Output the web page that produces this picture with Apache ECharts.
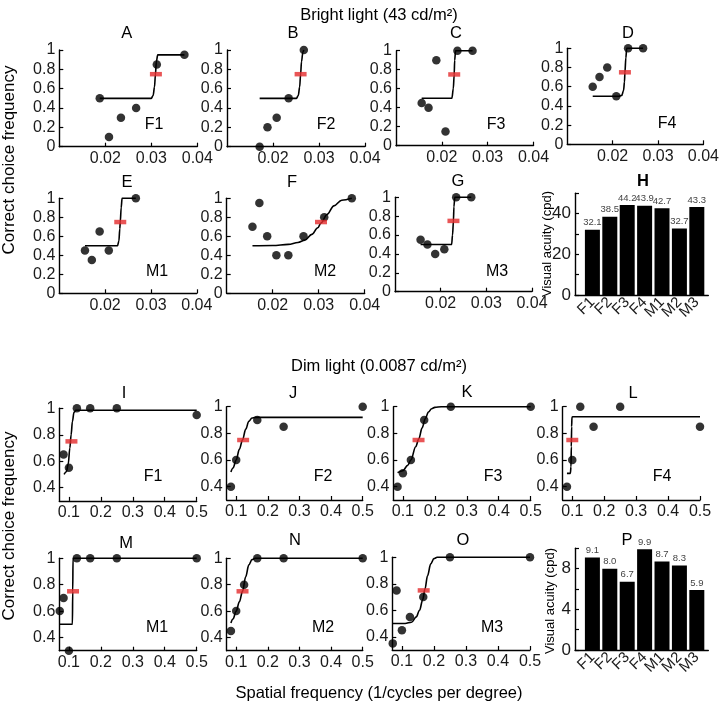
<!DOCTYPE html>
<html><head><meta charset="utf-8">
<script src="https://cdn.jsdelivr.net/npm/echarts@6/dist/echarts.min.js"></script>
<style>html,body{margin:0;padding:0;background:#fff}#c{width:722px;height:704px}</style>
</head><body><div id="c"></div>
<script>
// ---------------- DATA ----------------
const animals = ['F1','F2','F3','F4','M1','M2','M3'];
const brightAcuity = [32.1, 38.5, 44.2, 43.9, 42.7, 32.7, 43.3];
const dimAcuity = [9.1, 8.0, 6.7, 9.9, 8.7, 8.3, 5.9];

const brightXTicks = [0.02, 0.03, 0.04];
const dimXTicks = [0.1, 0.2, 0.3, 0.4, 0.5];
const brightYTicks = [0, 0.2, 0.4, 0.6, 0.8, 1];
const dimYTicks = [0.4, 0.6, 0.8, 1];
const acuityTicksH = [0, 10, 20, 30, 40, 50];
const acuityLabelsH = [0, 20, 40];
const acuityTicksP = [0, 2, 4, 6, 8, 10];
const acuityLabelsP = [0, 4, 8];

// Bright light (43 cd/m2): measured points, fitted curve, 75% threshold
const ptsA = [[0.0188,0.5],[0.0208,0.1],[0.0234,0.3],[0.0267,0.4],[0.0312,0.85],[0.0372,0.95]];
const fitA = [[0.0188,0.5],[0.0300,0.5],[0.0304,0.53],[0.0307,0.62],[0.0309,0.75],[0.0311,0.88],[0.0314,0.95],[0.0372,0.95]];
const thrA = 0.031;
const ptsB = [[0.0171,0],[0.0188,0.2],[0.0208,0.3],[0.0234,0.5],[0.0267,1.0]];
const fitB = [[0.0171,0.5],[0.0251,0.5],[0.0255,0.53],[0.0258,0.62],[0.0260,0.75],[0.0262,0.88],[0.0265,0.98],[0.0267,1.0]];
const thrB = 0.026;
const ptsC = [[0.0156,0.45],[0.0171,0.4],[0.0188,0.9],[0.0208,0.15],[0.0234,1],[0.0267,1]];
const fitC = [[0.0156,0.5],[0.0222,0.5],[0.0225,0.6],[0.0227,0.75],[0.0228,0.9],[0.0230,1.0],[0.0267,1.0]];
const thrC = 0.0227;
const ptsD = [[0.0156,0.6],[0.0171,0.7],[0.0188,0.8],[0.0208,0.5],[0.0234,1],[0.0267,1]];
const fitD = [[0.0156,0.5],[0.0214,0.5],[0.0220,0.51],[0.0224,0.56],[0.0226,0.65],[0.0227,0.75],[0.0229,0.9],[0.0231,1.0],[0.0267,1.0]];
const thrD = 0.0227;
const ptsE = [[0.0156,0.45],[0.0171,0.35],[0.0188,0.65],[0.0208,0.45],[0.0267,1]];
const fitE = [[0.0156,0.5],[0.0227,0.5],[0.0230,0.55],[0.0232,0.68],[0.0233,0.75],[0.0235,0.9],[0.0237,1],[0.0267,1]];
const thrE = 0.0233;
const ptsF = [[0.0156,0.7],[0.0171,0.95],[0.0188,0.6],[0.0208,0.4],[0.0234,0.4],[0.0267,0.6],[0.0312,0.8],[0.0372,1.0]];
const fitF = [[0.0156,0.5],[0.0200,0.503],[0.0234,0.515],[0.0255,0.535],[0.0270,0.56],[0.0285,0.62],[0.0298,0.69],[0.0305,0.74],[0.0318,0.83],[0.0333,0.92],[0.0350,0.98],[0.0372,1.0]];
const thrF = 0.0305;
const ptsG = [[0.0156,0.55],[0.0171,0.5],[0.0188,0.4],[0.0208,0.45],[0.0234,1],[0.0267,1]];
const fitG = [[0.0156,0.5],[0.0224,0.5],[0.0226,0.6],[0.0228,0.75],[0.0229,0.9],[0.0231,1],[0.0267,1]];
const thrG = 0.0228;

// Dim light (0.0087 cd/m2)
const ptsI = [[0.0833,0.65],[0.1,0.55],[0.125,1],[0.1667,1],[0.25,1],[0.5,0.95]];
const fitI = [[0.085,0.5],[0.092,0.52],[0.098,0.58],[0.103,0.7],[0.107,0.8],[0.111,0.9],[0.116,0.97],[0.122,0.985],[0.5,0.985]];
const thrI = 0.108;
const ptsJ = [[0.0833,0.4],[0.1,0.6],[0.1667,0.9],[0.25,0.85],[0.5,1.0]];
const fitJ = [[0.0833,0.51],[0.09,0.54],[0.1,0.6],[0.11,0.68],[0.12,0.75],[0.13,0.83],[0.14,0.89],[0.15,0.915],[0.16,0.92],[0.5,0.92]];
const thrJ = 0.122;
const ptsK = [[0.0833,0.4],[0.1,0.5],[0.125,0.6],[0.1667,0.9],[0.25,1],[0.5,1]];
const fitK = [[0.0833,0.505],[0.1,0.52],[0.115,0.56],[0.125,0.6],[0.14,0.7],[0.15,0.76],[0.16,0.84],[0.17,0.91],[0.18,0.96],[0.19,0.985],[0.2,0.995],[0.22,1],[0.5,1]];
const thrK = 0.149;
const ptsL = [[0.0833,0.4],[0.1,0.6],[0.125,1],[0.1667,0.85],[0.25,1],[0.5,0.85]];
const fitL = [[0.0833,0.5],[0.094,0.5],[0.096,0.55],[0.097,0.7],[0.098,0.85],[0.099,0.92],[0.101,0.925],[0.5,0.925]];
const thrL = 0.1;
const ptsM = [[0.0714,0.6],[0.0833,0.7],[0.1,0.3],[0.125,1],[0.1667,1],[0.25,1],[0.5,1]];
const fitM = [[0.0714,0.5],[0.111,0.5],[0.112,0.75],[0.113,1],[0.5,1]];
const thrM = 0.113;
const ptsN = [[0.0833,0.45],[0.1,0.6],[0.125,0.8],[0.1667,1],[0.25,1],[0.5,1]];
const fitN = [[0.0833,0.51],[0.09,0.54],[0.1,0.6],[0.11,0.67],[0.12,0.75],[0.13,0.86],[0.14,0.95],[0.15,0.99],[0.16,1],[0.5,1]];
const thrN = 0.12;
const ptsO = [[0.0714,0.35],[0.0833,0.75],[0.1,0.45],[0.125,0.55],[0.1667,0.7],[0.25,1],[0.5,1]];
const fitO = [[0.0714,0.5],[0.11,0.5],[0.13,0.51],[0.145,0.55],[0.155,0.6],[0.165,0.68],[0.172,0.76],[0.18,0.86],[0.19,0.95],[0.2,0.99],[0.21,1],[0.5,1]];
const thrO = 0.168;

// ---------------- LAYOUT ----------------
const FONT = '"Liberation Sans", Arial, Helvetica, sans-serif';
const psyPanels = [
  {L:'A', who:'F1', pts:ptsA, fit:fitA, thr:thrA, kind:'b', box:[59.3,50,138,96.7], lp:[126.7,33], wp:[154,125]},
  {L:'B', who:'F2', pts:ptsB, fit:fitB, thr:thrB, kind:'b', box:[227,50,138,96.7], lp:[293,33], wp:[326,125]},
  {L:'C', who:'F3', pts:ptsC, fit:fitC, thr:thrC, kind:'b', box:[396,50.7,137.5,95], lp:[456,33], wp:[496,125]},
  {L:'D', who:'F4', pts:ptsD, fit:fitD, thr:thrD, kind:'b', box:[567.3,48.3,137.7,96], lp:[628,33], wp:[667,124]},
  {L:'E', who:'M1', pts:ptsE, fit:fitE, thr:thrE, kind:'b', box:[59.3,198.3,137.5,95], lp:[127,182], wp:[157,272]},
  {L:'F', who:'M2', pts:ptsF, fit:fitF, thr:thrF, kind:'b', box:[226.7,198.3,138,95], lp:[292,182], wp:[325,272]},
  {L:'G', who:'M3', pts:ptsG, fit:fitG, thr:thrG, kind:'b', box:[395,197.3,137,94.4], lp:[458,181], wp:[497,272]},
  {L:'I', who:'F1', pts:ptsI, fit:fitI, thr:thrI, kind:'d', box:[59.3,408.3,137.4,92.6], lp:[124,393], wp:[153,477]},
  {L:'J', who:'F2', pts:ptsJ, fit:fitJ, thr:thrJ, kind:'d', box:[226.7,406.7,136,93.3], lp:[293,393], wp:[323,477]},
  {L:'K', who:'F3', pts:ptsK, fit:fitK, thr:thrK, kind:'d', box:[393.3,406.7,137.4,93.3], lp:[467,392], wp:[493,477]},
  {L:'L', who:'F4', pts:ptsL, fit:fitL, thr:thrL, kind:'d', box:[562.7,406.7,137.3,93.3], lp:[633,393], wp:[662,477]},
  {L:'M', who:'M1', pts:ptsM, fit:fitM, thr:thrM, kind:'d', box:[59.3,558.3,137.4,92.4], lp:[126,543], wp:[157,628]},
  {L:'N', who:'M2', pts:ptsN, fit:fitN, thr:thrN, kind:'d', box:[226.7,558.3,136,92.4], lp:[295,540], wp:[323,628]},
  {L:'O', who:'M3', pts:ptsO, fit:fitO, thr:thrO, kind:'d', box:[392.3,557.3,137.7,92.7], lp:[463,540], wp:[492,628]}
];
// bar panels: axis box (value axis 0..7.66, bars at 1..7) and the label band box (7 category bands)
const barPanels = [
  {L:'H', vals:brightAcuity, ticks:acuityTicksH, labels:acuityLabelsH, max:50, box:[575,193.3,133.3,101.7], lp:[643,181], bold:true, tp:[547,244]},
  {L:'P', vals:dimAcuity, ticks:acuityTicksP, labels:acuityLabelsP, max:10, box:[575,548.3,133.3,101.7], lp:[627,540], bold:false, tp:[550,601]}
];
const BAR_XMAX = 7.66;

const grids = [], xAxes = [], yAxes = [], series = [], graphics = [];
const axisLineStyle = {show:true, onZero:false, lineStyle:{color:'#000', width:1.4}};
function txt(x, y, text, size, opts) {
  opts = opts || {};
  return {type:'text', x:x, y:y, rotation: opts.rot || 0, silent:true,
    style:{text:text, font:(opts.bold?'bold ':'') + size + 'px ' + FONT, fill:'#000',
      align:'center', verticalAlign:'middle', textAlign:'center', textVerticalAlign:'middle'}};
}

psyPanels.forEach(function(p){
  const i = grids.length;
  const bright = p.kind === 'b';
  grids.push({left:p.box[0], top:p.box[1], width:p.box[2], height:p.box[3]});
  const xt = bright ? brightXTicks : dimXTicks;
  const yt = bright ? brightYTicks : dimYTicks;
  xAxes.push({gridIndex:i, type:'value', min: bright?0.01:0.07, max: bright?0.04:0.5,
    axisLine:axisLineStyle, splitLine:{show:false},
    axisTick:{show:true, inside:true, length:4, customValues:xt, lineStyle:{color:'#000', width:1.2}},
    axisLabel:{customValues:xt, fontSize:16, fontFamily:FONT, color:'#1a1a1a', margin:4, hideOverlap:false}});
  yAxes.push({gridIndex:i, type:'value', min: bright?0:0.3, max:1,
    axisLine:axisLineStyle, splitLine:{show:false},
    axisTick:{show:true, inside:true, length:4, customValues:yt, lineStyle:{color:'#000', width:1.2}},
    axisLabel:{customValues:yt, fontSize:16, fontFamily:FONT, color:'#1a1a1a', margin:4, hideOverlap:false}});
  series.push({type:'line', xAxisIndex:i, yAxisIndex:i, data:p.fit, showSymbol:false, symbol:'none',
    smooth:0.35, smoothMonotone:'x', lineStyle:{color:'#000', width:1.6}, z:2, clip:false, silent:true});
  series.push({type:'scatter', xAxisIndex:i, yAxisIndex:i, data:p.pts, symbol:'circle', symbolSize:8.5,
    itemStyle:{color:'#000'}, z:3, clip:false, silent:true});
  series.push({type:'scatter', xAxisIndex:i, yAxisIndex:i, data:[[p.thr, 0.75]], symbol:'rect', symbolSize:[12,4.5],
    itemStyle:{color:'#e32a2c'}, z:4, clip:false, silent:true});
  graphics.push(txt(p.lp[0], p.lp[1], p.L, 16.5));
  graphics.push(txt(p.wp[0], p.wp[1], p.who, 16));
});

barPanels.forEach(function(p){
  const i = grids.length;
  grids.push({left:p.box[0], top:p.box[1], width:p.box[2], height:p.box[3]});
  xAxes.push({gridIndex:i, type:'value', min:0, max:BAR_XMAX,
    axisLine:axisLineStyle, splitLine:{show:false}, axisTick:{show:false}, axisLabel:{show:false}});
  yAxes.push({gridIndex:i, type:'value', min:0, max:p.max,
    axisLine:axisLineStyle, splitLine:{show:false},
    axisTick:{show:true, inside:true, length:4, customValues:p.ticks, lineStyle:{color:'#000', width:1.2}},
    axisLabel:{customValues:p.labels, fontSize:17, fontFamily:FONT, color:'#1a1a1a', margin:4, hideOverlap:false}});
  series.push({type:'bar', xAxisIndex:i, yAxisIndex:i, barWidth:15,
    data:p.vals.map(function(v, k){ return [k + 1, v]; }),
    itemStyle:{color:'#000'}, silent:true,
    label:{show:true, position:'top', distance:2, fontSize:9.5, fontFamily:FONT, color:'#444',
      formatter:function(q){ return q.value[1].toFixed(1); }}});
  // category label band: bands centred on the bar positions 1..7 of the value axis
  const unit = p.box[2] / BAR_XMAX;
  const j = grids.length;
  grids.push({left:p.box[0] + 0.5 * unit, top:p.box[1], width:7 * unit, height:p.box[3]});
  xAxes.push({gridIndex:j, type:'category', data:animals, boundaryGap:true,
    axisLine:{show:false}, axisTick:{show:false}, splitLine:{show:false},
    axisLabel:{interval:0, rotate:45, fontSize:15, fontFamily:FONT, color:'#1a1a1a', margin:5, hideOverlap:false}});
  yAxes.push({gridIndex:j, type:'value', show:false, min:0, max:1});
  graphics.push(txt(p.lp[0], p.lp[1], p.L, 16.5, {bold:p.bold}));
  graphics.push(txt(p.tp[0], p.tp[1], 'Visual acuity (cpd)', 13, {rot:Math.PI/2}));
});

graphics.push(txt(379, 15, 'Bright light (43 cd/m\u00B2)', 16.5));
graphics.push(txt(379, 366, 'Dim light (0.0087 cd/m\u00B2)', 16.5));
graphics.push(txt(379, 693, 'Spatial frequency (1/cycles per degree)', 16.5));
graphics.push(txt(9, 160, 'Correct choice frequency', 17, {rot:Math.PI/2}));
graphics.push(txt(9, 526, 'Correct choice frequency', 17, {rot:Math.PI/2}));

const chart = echarts.init(document.getElementById('c'), null, {renderer:'canvas'});
chart.setOption({
  animation:false,
  backgroundColor:'#fff',
  grid:grids, xAxis:xAxes, yAxis:yAxes, series:series,
  graphic:graphics
});
</script></body></html>
